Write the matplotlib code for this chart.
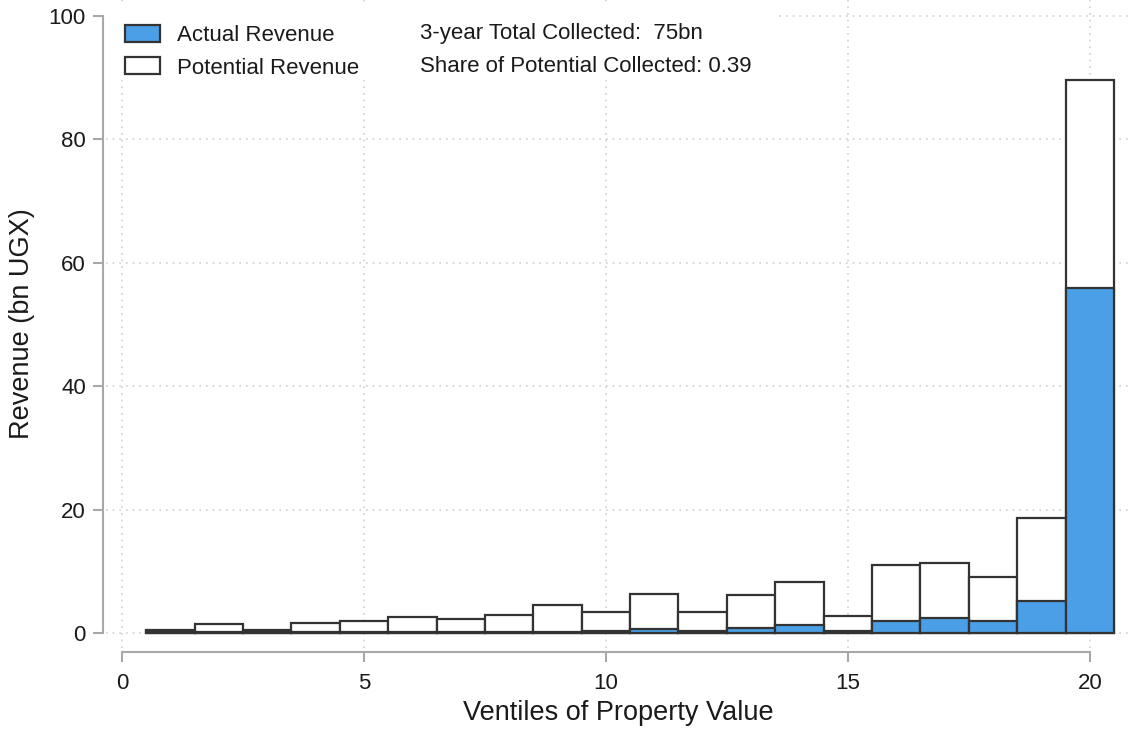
import matplotlib
matplotlib.use("Agg")
import matplotlib.pyplot as plt
from matplotlib.patches import Patch, Rectangle

plt.rcParams['font.family'] = ['Liberation Sans', 'DejaVu Sans']

# ventiles of property value and revenue (bn UGX)
ventiles = list(range(1, 21))
potential = [0.5, 1.5, 0.5, 1.6, 1.9, 2.6, 2.2, 2.9, 4.5, 3.4,
             6.3, 3.4, 6.1, 8.3, 2.8, 11.1, 11.4, 9.1, 18.7, 89.6]
actual = [0.3, 0.1, 0.3, 0.1, 0.1, 0.1, 0.1, 0.1, 0.2, 0.3,
          0.7, 0.3, 0.8, 1.3, 0.4, 2.0, 2.5, 2.0, 5.2, 56.0]
xticks = [0, 5, 10, 15, 20]
yticks = [0, 20, 40, 60, 80, 100]
note_lines = ["3-year Total Collected:  75bn", "Share of Potential Collected: 0.39"]

blue = '#4a9fe6'
edge = '#333333'
axis_grey = '#a8a8a8'
W, H = 1134, 729

fig = plt.figure(figsize=(W / 100, H / 100), dpi=100)
ax = fig.add_axes([106 / W, (H - 648) / H, (1130 - 106) / W, 648 / H])

ax.bar(ventiles, potential, width=1, color='white', edgecolor=edge, linewidth=1.6, zorder=2)
ax.bar(ventiles, actual, width=1, color=blue, edgecolor=edge, linewidth=1.6, zorder=3)

ax.set_xlim(-0.33, 20.83)
ax.set_ylim(-2.43, 102.6)
ax.set_xticks(xticks)
ax.set_yticks(yticks)
ax.set_axisbelow(True)
ax.grid(True, color='#cfcfcf', linestyle=(0, (1, 3)), linewidth=1.2)

for s in ['top', 'right']:
    ax.spines[s].set_visible(False)
ax.spines['left'].set_position(('outward', 2.5))
ax.spines['bottom'].set_position(('outward', 3))
ax.spines['left'].set_bounds(0, 100)
ax.spines['bottom'].set_bounds(0, 20)
for s in ['left', 'bottom']:
    ax.spines[s].set_color(axis_grey)
    ax.spines[s].set_linewidth(1.5)
ax.tick_params(axis='both', length=7, width=1.5, color=axis_grey, labelsize=16, labelcolor='#1a1a1a')
ax.tick_params(axis='y', pad=5)
ax.tick_params(axis='x', pad=8)

ax.set_xlabel('Ventiles of Property Value', fontsize=19.5, color='#1a1a1a', labelpad=4)
ax.set_ylabel('Revenue (bn UGX)', fontsize=19.5, color='#1a1a1a', labelpad=10)

# white box behind the legend and notes
ax.add_patch(Rectangle((-0.33, 89.6), 13.88, 12.2, facecolor='white', edgecolor='none', zorder=1))

handles = [Patch(facecolor=blue, edgecolor=edge, linewidth=1.6, label='Actual Revenue'),
           Patch(facecolor='white', edgecolor=edge, linewidth=1.6, label='Potential Revenue')]
ax.legend(handles=handles, loc='upper left', bbox_to_anchor=(125 / W, 1 - 25 / H),
          bbox_transform=fig.transFigure, frameon=False, fontsize=16, borderpad=0,
          borderaxespad=0, handlelength=1.58, handleheight=0.8, handletextpad=0.75,
          labelspacing=0.5, labelcolor='#1a1a1a')

for i, line in enumerate(note_lines):
    fig.text(420 / W, 1 - (34 + 33 * i) / H, line, fontsize=16, color='#1a1a1a', va='center', ha='left')

fig.savefig('out.png', dpi=100)
